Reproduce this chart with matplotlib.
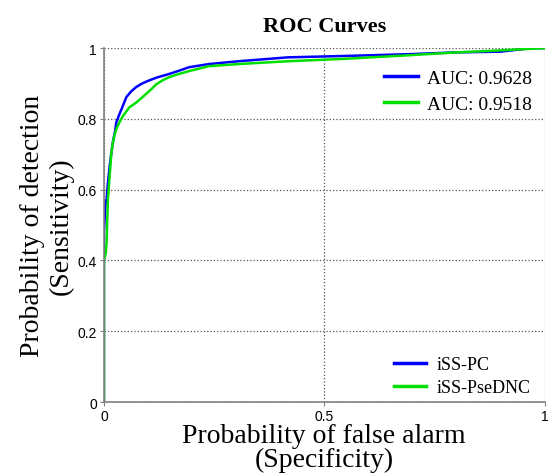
import matplotlib.pyplot as plt
from matplotlib.legend import Legend

# ROC points (false alarm rate, detection rate)
fpr_pc = [0.0, 0.0, 0.002, 0.004, 0.006, 0.009, 0.013, 0.017, 0.021, 0.025, 0.028,
          0.034, 0.040, 0.051, 0.062, 0.073, 0.085, 0.099, 0.120, 0.148, 0.170,
          0.193, 0.238, 0.306, 0.418, 0.55, 0.694, 0.80, 0.90, 0.97, 1.0]
tpr_pc = [0.0, 0.48, 0.53, 0.565, 0.573, 0.62, 0.667, 0.706, 0.74, 0.763, 0.79,
          0.81, 0.828, 0.862, 0.878, 0.89, 0.899, 0.907, 0.917, 0.927, 0.936,
          0.946, 0.955, 0.963, 0.974, 0.978, 0.983, 0.988, 0.990, 1.0, 1.0]

fpr_dnc = [0.0, 0.0, 0.004, 0.006, 0.009, 0.013, 0.017, 0.022, 0.028, 0.035, 0.043,
           0.058, 0.073, 0.088, 0.104, 0.119, 0.133, 0.148, 0.170, 0.193, 0.238,
           0.306, 0.418, 0.55, 0.694, 0.80, 0.89, 0.95, 1.0]
tpr_dnc = [0.0, 0.40, 0.42, 0.45, 0.573, 0.64, 0.706, 0.745, 0.771, 0.79, 0.808,
           0.833, 0.846, 0.862, 0.88, 0.898, 0.909, 0.918, 0.927, 0.935, 0.949,
           0.955, 0.963, 0.970, 0.980, 0.988, 0.993, 0.997, 1.0]

nombres = ['iSS-PC', 'iSS-PseDNC']
aucs = ['AUC: 0.9628', 'AUC: 0.9518']
colores = ['#0000ff', '#00e000']

serif = ['Liberation Serif', 'DejaVu Serif']
sans = ['Liberation Sans', 'DejaVu Sans']

fig = plt.figure(figsize=(5.5, 4.77), dpi=100)
ax = fig.add_axes([0.189, 0.155, 0.801, 0.742])

l1, = ax.plot(fpr_pc, tpr_pc, color=colores[0], lw=1.8)
l2, = ax.plot(fpr_dnc, tpr_dnc, color=colores[1], lw=1.8)

ax.set_xlim(0, 1)
ax.set_ylim(0, 1)
ax.set_xticks([0, 0.5, 1])
ax.set_xticklabels(['0', '0.5', '1'], family=sans, fontsize=10)
ax.set_yticks([0, 0.2, 0.4, 0.6, 0.8, 1])
ax.set_yticklabels(['0', '0.2', '0.4', '0.6', '0.8', '1'], family=sans, fontsize=10)
ax.tick_params(length=3, width=0.8, color='#808080', pad=2)
ax.grid(True, linestyle=':', color='#555555', linewidth=0.9)
for lado in ['top', 'right']:
    ax.spines[lado].set_visible(False)
for lado in ['left', 'bottom']:
    ax.spines[lado].set_color('#808080')
    ax.spines[lado].set_linewidth(1.2)

ax.set_title('ROC Curves', family=serif, fontsize=16, fontweight='bold', pad=12)
ax.set_xlabel('Probability of false alarm\n(Specificity)', family=serif, fontsize=20,
              linespacing=0.95, labelpad=0)
ax.set_ylabel('Probability of detection\n(Sensitivity)', family=serif, fontsize=20,
              linespacing=1.15, labelpad=3)

leg1 = ax.legend([l1, l2], aucs, loc='upper right', bbox_to_anchor=(1.012, 0.99),
                 frameon=False, prop={'family': serif, 'size': 14},
                 handlelength=1.75, handletextpad=0.5, labelspacing=0.45)
for h in leg1.get_lines():
    h.set_linewidth(2.5)
leg2 = Legend(ax, [l1, l2], nombres, loc='lower right', bbox_to_anchor=(1.005, -0.03),
              frameon=False, prop={'family': serif, 'size': 13},
              handlelength=1.75, handletextpad=0.6, labelspacing=0.35)
for h in leg2.get_lines():
    h.set_linewidth(2.5)
ax.add_artist(leg2)

fig.savefig('out.png', dpi=100)
